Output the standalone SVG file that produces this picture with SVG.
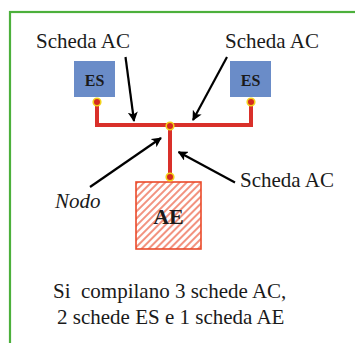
<svg xmlns="http://www.w3.org/2000/svg" width="355" height="343" viewBox="0 0 355 343">
<defs>
<style>
.t{font-family:"Liberation Serif","Times New Roman",serif;font-size:21px;fill:#1a1a1a}
.b{font-family:"Liberation Serif","Times New Roman",serif;font-weight:bold;fill:#1a1a1a}
.wire{stroke:#d9302a;stroke-width:4;fill:none}
.dot{fill:#d42a20;stroke:#f2d21a;stroke-width:1.6}
.arr{stroke:#000;stroke-width:2.2;fill:none;marker-end:url(#ah)}
.es{fill:#6a8cc8}
</style>
<marker id="ah" markerWidth="10" markerHeight="10" viewBox="0 0 10 10" refX="9" refY="5" orient="auto" markerUnits="userSpaceOnUse">
<path d="M0,0 L10,5 L0,10 L2.5,5 Z" fill="#000"/>
</marker>
<pattern id="hatch" width="5" height="5" patternUnits="userSpaceOnUse" patternTransform="rotate(45)">
<line x1="1" y1="0" x2="1" y2="5" stroke="#ea4a2a" stroke-width="1.2"/>
</pattern>
</defs>
<rect x="10" y="12" width="360" height="345" fill="#fff" stroke="#4cb03c" stroke-width="2.2"/>
<g id="connectors">
<path class="wire" d="M97,102 V125 H251 V102"/>
<path class="wire" d="M170,126 V177"/>
<line class="arr" x1="125.5" y1="57" x2="134" y2="121"/>
<line class="arr" x1="227" y1="57" x2="193" y2="120"/>
<line class="arr" x1="90" y1="187" x2="161" y2="138"/>
<line class="arr" x1="235" y1="182.5" x2="178.5" y2="152"/>
</g>
<g id="es-left">
<rect class="es" x="74" y="61" width="41" height="36"/>
<text class="b" x="94.5" y="86" font-size="16" text-anchor="middle">ES</text>
</g>
<g id="es-right">
<rect class="es" x="230" y="61" width="41" height="36"/>
<text class="b" x="250.5" y="86" font-size="16" text-anchor="middle">ES</text>
</g>
<g id="ae">
<rect x="136" y="182" width="65" height="67" fill="url(#hatch)" stroke="#ea4a2a" stroke-width="1.6"/>
<text class="b" x="168.5" y="224" font-size="22" text-anchor="middle">AE</text>
</g>
<g id="dots">
<circle class="dot" cx="97" cy="102" r="3.8"/>
<circle class="dot" cx="251" cy="102" r="3.8"/>
<circle class="dot" cx="170" cy="126" r="3.8"/>
<circle class="dot" cx="170" cy="177" r="3.8"/>
</g>
<g id="labels">
<text class="t" x="36" y="48">Scheda AC</text>
<text class="t" x="225" y="48">Scheda AC</text>
<text class="t" x="240" y="187">Scheda AC</text>
<text class="t" x="55" y="208" font-style="italic">Nodo</text>
<text class="t" x="53" y="298" xml:space="preserve">Si  compilano 3 schede AC,</text>
<text class="t" x="57" y="324">2 schede ES e 1 scheda AE</text>
</g>
</svg>
